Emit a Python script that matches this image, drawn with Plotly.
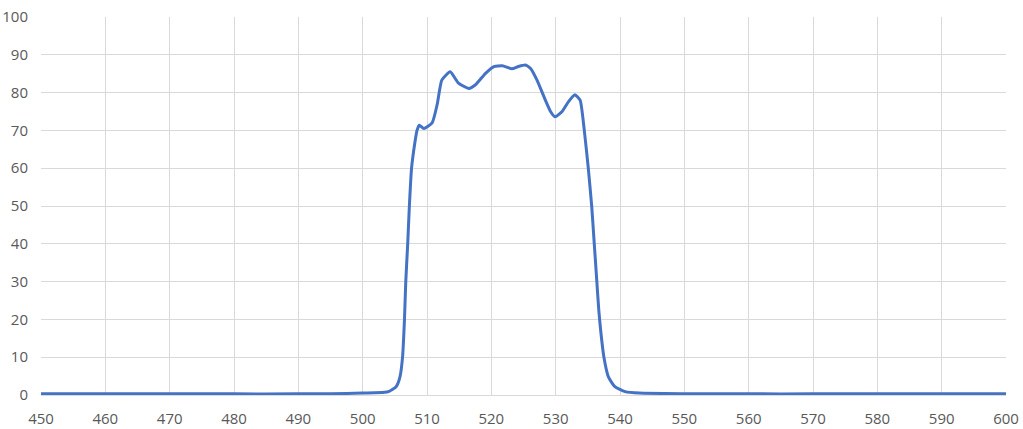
import plotly.graph_objects as go

wavelength = [450, 460, 470, 480, 490, 495, 500, 503.4, 504.0, 505.2, 505.8, 506.2, 506.5, 506.7,
              507.0, 507.26, 507.6, 508.1, 508.45, 508.8, 509.5, 510.8, 511.6, 512.3, 513.6,
              514.9, 516.5, 517.5, 519.1, 520.4, 521.7, 523.2, 524.2, 525.3, 526.1, 527.1,
              528.4, 529.2, 529.9, 531.0, 532.0, 533.0, 533.8, 534.45, 535.07, 535.6, 536.0,
              536.4, 536.7, 537.0, 537.5, 538.2, 539.2, 540.8, 543, 550, 560, 570, 580, 590, 600]
transmission = [0.3, 0.3, 0.3, 0.3, 0.3, 0.35, 0.5, 0.7, 0.9, 2.2, 4.8, 10, 20, 30,
                40, 50, 60, 66.6, 70, 71.4, 70.5, 72, 77, 83.3, 85.5,
                82.5, 81.1, 82, 85.1, 86.9, 87.1, 86.3, 86.9, 87.3, 86.4, 83.3,
                78, 75, 73.6, 75, 77.6, 79.4, 78, 70, 60, 50, 40,
                30, 22.5, 17, 10, 4.8, 2.2, 0.9, 0.5, 0.35, 0.3, 0.3, 0.3, 0.3, 0.3]

x_ticks = list(range(450, 601, 10))
y_ticks = list(range(0, 101, 10))

fig = go.Figure()
fig.add_trace(go.Scatter(
    x=wavelength, y=transmission, mode="lines",
    line=dict(color="#4472C4", width=3, shape="spline", smoothing=0.5),
    showlegend=False, hoverinfo="skip"))

font = dict(family="Open Sans, Liberation Sans, sans-serif", size=15, color="#595959")
fig.update_layout(
    width=1023, height=429,
    margin=dict(l=41, r=17, t=17, b=34),
    paper_bgcolor="white", plot_bgcolor="white",
    font=font,
    xaxis=dict(range=[450, 600], tickvals=x_ticks, showgrid=True, gridcolor="#D9D9D9",
               gridwidth=1, zeroline=False, showline=True, linecolor="#D9D9D9",
               ticks="", ticklabelstandoff=10, tickfont=font, fixedrange=True,
               automargin=False),
    yaxis=dict(range=[0, 100], tickvals=y_ticks, showgrid=True, gridcolor="#D9D9D9",
               gridwidth=1, zeroline=False, showline=False, ticks="",
               ticklabelstandoff=12, tickfont=font, fixedrange=True, automargin=False),
)
fig.write_html("out.html", config={"displayModeBar": False},
               post_script="document.body.style.margin='0';document.body.style.padding='0';")
